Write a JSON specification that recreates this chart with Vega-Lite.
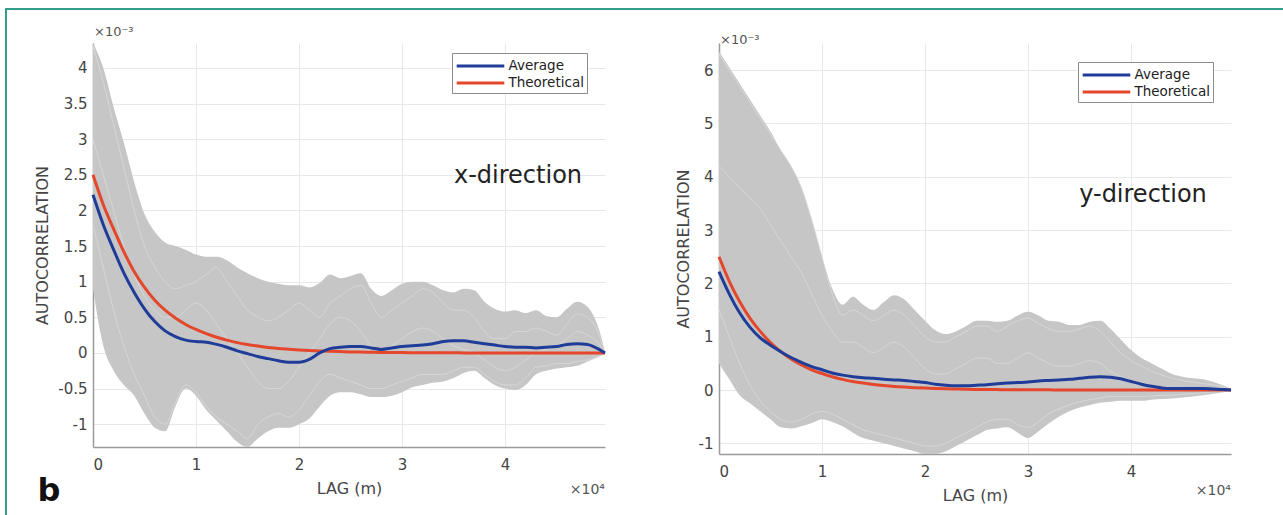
{
"$schema": "https://vega.github.io/schema/vega-lite/v6.json",
"background": "white",
"padding": {"left": 5, "top": 8, "right": 0, "bottom": 0},
"bounds": "flush",
"spacing": 114,
"config": {
  "font": "DejaVu Sans",
  "view": {"stroke": null},
  "axis": {"grid": true, "gridColor": "#e8e8e8", "gridWidth": 1, "domainColor": "#9b9b9b", "domainWidth": 1.5, "ticks": false, "labelFont": "DejaVu Sans", "labelFontSize": 15, "labelColor": "#454545", "labelPadding": 6, "titleFont": "DejaVu Sans", "titleFontSize": 16, "titleFontWeight": "normal", "titleColor": "#454545"},
  "legend": {"title": null, "symbolType": "M-2.8,0H2.8", "symbolSize": 289, "symbolStrokeWidth": 3, "symbolOffset": 15.5, "labelOffset": 18, "labelFont": "DejaVu Sans", "labelFontSize": 13.5, "labelColor": "#222222", "strokeColor": "#8c8c8c", "fillColor": "white", "padding": 3, "rowPadding": -3}
},
"datasets": {
"xdir": [
{"lag":0,"lo":0.9,"hi":4.35,"g1":4.3,"g2":1.8,"g3":3.0,"Average":2.22,"Theoretical":2.5},
{"lag":1000,"lo":0.1,"hi":4.0,"g1":3.8,"g2":1.2,"g3":2.5,"Average":1.8,"Theoretical":2.08},
{"lag":2000,"lo":-0.25,"hi":3.45,"g1":3.2,"g2":0.6,"g3":2.0,"Average":1.45,"Theoretical":1.74},
{"lag":3000,"lo":-0.45,"hi":2.95,"g1":2.6,"g2":0.1,"g3":1.5,"Average":1.12,"Theoretical":1.42},
{"lag":4000,"lo":-0.6,"hi":2.4,"g1":2.0,"g2":-0.3,"g3":1.1,"Average":0.85,"Theoretical":1.14},
{"lag":5000,"lo":-0.85,"hi":1.95,"g1":1.5,"g2":-0.6,"g3":0.8,"Average":0.62,"Theoretical":0.92},
{"lag":6000,"lo":-1.05,"hi":1.7,"g1":1.2,"g2":-0.9,"g3":0.6,"Average":0.44,"Theoretical":0.74},
{"lag":7000,"lo":-1.1,"hi":1.55,"g1":1.0,"g2":-1.0,"g3":0.5,"Average":0.31,"Theoretical":0.6},
{"lag":8000,"lo":-0.75,"hi":1.5,"g1":0.9,"g2":-0.7,"g3":0.5,"Average":0.23,"Theoretical":0.49},
{"lag":9000,"lo":-0.5,"hi":1.45,"g1":0.95,"g2":-0.45,"g3":0.6,"Average":0.18,"Theoretical":0.4},
{"lag":10000,"lo":-0.6,"hi":1.38,"g1":1.0,"g2":-0.55,"g3":0.7,"Average":0.16,"Theoretical":0.33},
{"lag":11000,"lo":-0.8,"hi":1.35,"g1":1.1,"g2":-0.75,"g3":0.6,"Average":0.15,"Theoretical":0.27},
{"lag":12000,"lo":-0.95,"hi":1.35,"g1":1.2,"g2":-0.9,"g3":0.4,"Average":0.12,"Theoretical":0.22},
{"lag":13000,"lo":-1.1,"hi":1.3,"g1":1.0,"g2":-1.0,"g3":0.2,"Average":0.08,"Theoretical":0.18},
{"lag":14000,"lo":-1.25,"hi":1.2,"g1":0.8,"g2":-1.1,"g3":0.0,"Average":0.03,"Theoretical":0.145},
{"lag":15000,"lo":-1.32,"hi":1.12,"g1":0.6,"g2":-1.2,"g3":-0.2,"Average":-0.01,"Theoretical":0.118},
{"lag":16000,"lo":-1.2,"hi":1.05,"g1":0.5,"g2":-1.0,"g3":-0.4,"Average":-0.05,"Theoretical":0.096},
{"lag":17000,"lo":-1.1,"hi":1.0,"g1":0.45,"g2":-0.9,"g3":-0.5,"Average":-0.08,"Theoretical":0.078},
{"lag":18000,"lo":-1.05,"hi":0.97,"g1":0.5,"g2":-0.85,"g3":-0.5,"Average":-0.11,"Theoretical":0.063},
{"lag":19000,"lo":-1.05,"hi":0.95,"g1":0.6,"g2":-0.9,"g3":-0.4,"Average":-0.13,"Theoretical":0.052},
{"lag":20000,"lo":-1.0,"hi":0.95,"g1":0.7,"g2":-0.8,"g3":-0.2,"Average":-0.13,"Theoretical":0.042},
{"lag":21000,"lo":-0.92,"hi":0.92,"g1":0.6,"g2":-0.6,"g3":0.0,"Average":-0.09,"Theoretical":0.034},
{"lag":22000,"lo":-0.75,"hi":0.98,"g1":0.5,"g2":-0.4,"g3":0.2,"Average":0.0,"Theoretical":0.028},
{"lag":23000,"lo":-0.6,"hi":1.1,"g1":0.7,"g2":-0.3,"g3":0.4,"Average":0.06,"Theoretical":0.023},
{"lag":24000,"lo":-0.55,"hi":1.05,"g1":0.8,"g2":-0.35,"g3":0.5,"Average":0.08,"Theoretical":0.019},
{"lag":25000,"lo":-0.55,"hi":1.08,"g1":0.9,"g2":-0.4,"g3":0.45,"Average":0.09,"Theoretical":0.015},
{"lag":26000,"lo":-0.58,"hi":1.12,"g1":0.95,"g2":-0.45,"g3":0.3,"Average":0.09,"Theoretical":0.012},
{"lag":27000,"lo":-0.62,"hi":0.9,"g1":0.7,"g2":-0.5,"g3":0.1,"Average":0.07,"Theoretical":0.01},
{"lag":28000,"lo":-0.62,"hi":0.8,"g1":0.5,"g2":-0.5,"g3":0.0,"Average":0.05,"Theoretical":0.008},
{"lag":29000,"lo":-0.6,"hi":0.88,"g1":0.6,"g2":-0.45,"g3":0.1,"Average":0.07,"Theoretical":0.007},
{"lag":30000,"lo":-0.55,"hi":0.97,"g1":0.7,"g2":-0.4,"g3":0.2,"Average":0.09,"Theoretical":0.005},
{"lag":31000,"lo":-0.48,"hi":1.0,"g1":0.8,"g2":-0.35,"g3":0.3,"Average":0.1,"Theoretical":0.004},
{"lag":32000,"lo":-0.45,"hi":1.0,"g1":0.9,"g2":-0.3,"g3":0.35,"Average":0.11,"Theoretical":0.003},
{"lag":33000,"lo":-0.42,"hi":0.95,"g1":0.85,"g2":-0.3,"g3":0.3,"Average":0.13,"Theoretical":0.003},
{"lag":34000,"lo":-0.4,"hi":0.88,"g1":0.7,"g2":-0.3,"g3":0.2,"Average":0.16,"Theoretical":0.002},
{"lag":35000,"lo":-0.35,"hi":0.85,"g1":0.6,"g2":-0.25,"g3":0.1,"Average":0.17,"Theoretical":0.002},
{"lag":36000,"lo":-0.28,"hi":0.9,"g1":0.6,"g2":-0.2,"g3":0.05,"Average":0.17,"Theoretical":0.001},
{"lag":37000,"lo":-0.25,"hi":0.88,"g1":0.5,"g2":-0.2,"g3":0.0,"Average":0.15,"Theoretical":0.001},
{"lag":38000,"lo":-0.35,"hi":0.72,"g1":0.3,"g2":-0.3,"g3":-0.1,"Average":0.13,"Theoretical":0.001},
{"lag":39000,"lo":-0.45,"hi":0.62,"g1":0.2,"g2":-0.4,"g3":-0.2,"Average":0.11,"Theoretical":0.001},
{"lag":40000,"lo":-0.5,"hi":0.58,"g1":0.2,"g2":-0.45,"g3":-0.25,"Average":0.09,"Theoretical":0},
{"lag":41000,"lo":-0.52,"hi":0.6,"g1":0.3,"g2":-0.45,"g3":-0.2,"Average":0.08,"Theoretical":0},
{"lag":42000,"lo":-0.45,"hi":0.56,"g1":0.3,"g2":-0.35,"g3":-0.1,"Average":0.08,"Theoretical":0},
{"lag":43000,"lo":-0.3,"hi":0.6,"g1":0.35,"g2":-0.2,"g3":0.0,"Average":0.07,"Theoretical":0},
{"lag":44000,"lo":-0.25,"hi":0.52,"g1":0.3,"g2":-0.18,"g3":0.05,"Average":0.08,"Theoretical":0},
{"lag":45000,"lo":-0.22,"hi":0.5,"g1":0.25,"g2":-0.15,"g3":0.1,"Average":0.09,"Theoretical":0},
{"lag":46000,"lo":-0.2,"hi":0.62,"g1":0.4,"g2":-0.15,"g3":0.2,"Average":0.12,"Theoretical":0},
{"lag":47000,"lo":-0.18,"hi":0.72,"g1":0.55,"g2":-0.12,"g3":0.3,"Average":0.13,"Theoretical":0},
{"lag":48000,"lo":-0.12,"hi":0.65,"g1":0.5,"g2":-0.1,"g3":0.25,"Average":0.12,"Theoretical":0},
{"lag":49000,"lo":-0.06,"hi":0.38,"g1":0.3,"g2":-0.05,"g3":0.15,"Average":0.06,"Theoretical":0},
{"lag":49700,"lo":-0.01,"hi":0.02,"g1":0.0,"g2":0.0,"g3":0.0,"Average":0.0,"Theoretical":0}
],
"ydir": [
{"lag":0,"lo":0.5,"hi":6.35,"g1":6.3,"g2":4.2,"g3":1.5,"Average":2.22,"Theoretical":2.5},
{"lag":1000,"lo":0.2,"hi":6.05,"g1":6.0,"g2":4.0,"g3":1.0,"Average":1.8,"Theoretical":2.04},
{"lag":2000,"lo":-0.1,"hi":5.75,"g1":5.7,"g2":3.8,"g3":0.5,"Average":1.45,"Theoretical":1.66},
{"lag":3000,"lo":-0.25,"hi":5.45,"g1":5.4,"g2":3.6,"g3":0.1,"Average":1.18,"Theoretical":1.35},
{"lag":4000,"lo":-0.4,"hi":5.15,"g1":5.1,"g2":3.4,"g3":-0.2,"Average":0.98,"Theoretical":1.1},
{"lag":5000,"lo":-0.55,"hi":4.85,"g1":4.8,"g2":3.1,"g3":-0.4,"Average":0.84,"Theoretical":0.89},
{"lag":6000,"lo":-0.7,"hi":4.5,"g1":4.5,"g2":2.8,"g3":-0.55,"Average":0.72,"Theoretical":0.72},
{"lag":7000,"lo":-0.72,"hi":4.2,"g1":4.2,"g2":2.5,"g3":-0.6,"Average":0.61,"Theoretical":0.58},
{"lag":8000,"lo":-0.68,"hi":3.8,"g1":3.8,"g2":2.2,"g3":-0.55,"Average":0.52,"Theoretical":0.47},
{"lag":9000,"lo":-0.62,"hi":3.2,"g1":3.2,"g2":1.8,"g3":-0.45,"Average":0.44,"Theoretical":0.38},
{"lag":10000,"lo":-0.55,"hi":2.5,"g1":2.5,"g2":1.4,"g3":-0.4,"Average":0.38,"Theoretical":0.31},
{"lag":11000,"lo":-0.6,"hi":1.9,"g1":1.8,"g2":1.1,"g3":-0.45,"Average":0.32,"Theoretical":0.25},
{"lag":12000,"lo":-0.68,"hi":1.6,"g1":1.4,"g2":0.9,"g3":-0.55,"Average":0.28,"Theoretical":0.2},
{"lag":13000,"lo":-0.8,"hi":1.75,"g1":1.5,"g2":0.9,"g3":-0.65,"Average":0.25,"Theoretical":0.16},
{"lag":14000,"lo":-0.9,"hi":1.6,"g1":1.4,"g2":0.8,"g3":-0.75,"Average":0.23,"Theoretical":0.13},
{"lag":15000,"lo":-0.95,"hi":1.5,"g1":1.3,"g2":0.7,"g3":-0.8,"Average":0.22,"Theoretical":0.105},
{"lag":16000,"lo":-1.0,"hi":1.65,"g1":1.4,"g2":0.8,"g3":-0.85,"Average":0.2,"Theoretical":0.085},
{"lag":17000,"lo":-1.05,"hi":1.78,"g1":1.5,"g2":0.9,"g3":-0.9,"Average":0.19,"Theoretical":0.068},
{"lag":18000,"lo":-1.1,"hi":1.7,"g1":1.4,"g2":0.8,"g3":-0.95,"Average":0.18,"Theoretical":0.055},
{"lag":19000,"lo":-1.15,"hi":1.5,"g1":1.2,"g2":0.6,"g3":-1.0,"Average":0.16,"Theoretical":0.045},
{"lag":20000,"lo":-1.2,"hi":1.3,"g1":1.0,"g2":0.4,"g3":-1.05,"Average":0.14,"Theoretical":0.036},
{"lag":21000,"lo":-1.2,"hi":1.12,"g1":0.9,"g2":0.3,"g3":-1.05,"Average":0.11,"Theoretical":0.029},
{"lag":22000,"lo":-1.15,"hi":1.05,"g1":0.9,"g2":0.3,"g3":-1.0,"Average":0.09,"Theoretical":0.023},
{"lag":23000,"lo":-1.05,"hi":1.1,"g1":1.0,"g2":0.4,"g3":-0.9,"Average":0.08,"Theoretical":0.019},
{"lag":24000,"lo":-0.95,"hi":1.2,"g1":1.1,"g2":0.5,"g3":-0.8,"Average":0.08,"Theoretical":0.015},
{"lag":25000,"lo":-0.85,"hi":1.3,"g1":1.2,"g2":0.6,"g3":-0.7,"Average":0.09,"Theoretical":0.012},
{"lag":26000,"lo":-0.75,"hi":1.3,"g1":1.2,"g2":0.6,"g3":-0.6,"Average":0.1,"Theoretical":0.01},
{"lag":27000,"lo":-0.72,"hi":1.28,"g1":1.1,"g2":0.5,"g3":-0.55,"Average":0.12,"Theoretical":0.008},
{"lag":28000,"lo":-0.7,"hi":1.3,"g1":1.2,"g2":0.5,"g3":-0.55,"Average":0.13,"Theoretical":0.006},
{"lag":29000,"lo":-0.8,"hi":1.4,"g1":1.3,"g2":0.6,"g3":-0.65,"Average":0.14,"Theoretical":0.005},
{"lag":30000,"lo":-0.9,"hi":1.47,"g1":1.35,"g2":0.7,"g3":-0.7,"Average":0.15,"Theoretical":0.004},
{"lag":31000,"lo":-0.78,"hi":1.4,"g1":1.25,"g2":0.6,"g3":-0.6,"Average":0.17,"Theoretical":0.003},
{"lag":32000,"lo":-0.63,"hi":1.3,"g1":1.15,"g2":0.5,"g3":-0.45,"Average":0.18,"Theoretical":0.003},
{"lag":33000,"lo":-0.5,"hi":1.28,"g1":1.1,"g2":0.45,"g3":-0.35,"Average":0.19,"Theoretical":0.002},
{"lag":34000,"lo":-0.4,"hi":1.22,"g1":1.1,"g2":0.45,"g3":-0.28,"Average":0.2,"Theoretical":0.002},
{"lag":35000,"lo":-0.33,"hi":1.22,"g1":1.15,"g2":0.5,"g3":-0.22,"Average":0.22,"Theoretical":0.001},
{"lag":36000,"lo":-0.28,"hi":1.28,"g1":1.2,"g2":0.55,"g3":-0.18,"Average":0.24,"Theoretical":0.001},
{"lag":37000,"lo":-0.24,"hi":1.3,"g1":1.1,"g2":0.5,"g3":-0.15,"Average":0.25,"Theoretical":0.001},
{"lag":38000,"lo":-0.22,"hi":1.15,"g1":0.9,"g2":0.35,"g3":-0.12,"Average":0.24,"Theoretical":0.001},
{"lag":39000,"lo":-0.2,"hi":0.95,"g1":0.7,"g2":0.25,"g3":-0.12,"Average":0.21,"Theoretical":0},
{"lag":40000,"lo":-0.2,"hi":0.75,"g1":0.55,"g2":0.15,"g3":-0.12,"Average":0.16,"Theoretical":0},
{"lag":41000,"lo":-0.2,"hi":0.6,"g1":0.45,"g2":0.1,"g3":-0.12,"Average":0.11,"Theoretical":0},
{"lag":42000,"lo":-0.18,"hi":0.5,"g1":0.35,"g2":0.08,"g3":-0.11,"Average":0.07,"Theoretical":0},
{"lag":43000,"lo":-0.17,"hi":0.4,"g1":0.28,"g2":0.06,"g3":-0.1,"Average":0.04,"Theoretical":0},
{"lag":44000,"lo":-0.16,"hi":0.3,"g1":0.22,"g2":0.05,"g3":-0.1,"Average":0.03,"Theoretical":0},
{"lag":45000,"lo":-0.14,"hi":0.25,"g1":0.18,"g2":0.05,"g3":-0.08,"Average":0.03,"Theoretical":0},
{"lag":46000,"lo":-0.12,"hi":0.22,"g1":0.15,"g2":0.04,"g3":-0.07,"Average":0.03,"Theoretical":0},
{"lag":47000,"lo":-0.1,"hi":0.2,"g1":0.12,"g2":0.03,"g3":-0.05,"Average":0.03,"Theoretical":0},
{"lag":48000,"lo":-0.07,"hi":0.15,"g1":0.1,"g2":0.02,"g3":-0.03,"Average":0.02,"Theoretical":0},
{"lag":49000,"lo":-0.04,"hi":0.08,"g1":0.05,"g2":0.01,"g3":-0.02,"Average":0.01,"Theoretical":0},
{"lag":49700,"lo":-0.01,"hi":0.02,"g1":0.0,"g2":0.0,"g3":0.0,"Average":0.0,"Theoretical":0}
]
},
"resolve": {"scale": {"color": "independent"}, "legend": {"color": "independent"}},
"hconcat": [
{
  "width": 512, "height": 404,
  "data": {"name": "xdir"},
  "layer": [
    {"data": {"values": [{"part": "frame"}]},
     "mark": {"type": "rect", "fillOpacity": 0, "stroke": "#339c8a", "strokeWidth": 2},
     "encoding": {"x": {"datum": -8445}, "x2": {"datum": 117066}, "y": {"datum": 4.827}, "y2": {"datum": -2.485}}},
    {"mark": {"type": "area", "color": "#c6c6c6", "interpolate": "monotone"},
     "encoding": {
       "x": {"field": "lag", "type": "quantitative", "scale": {"domain": [0, 49700], "nice": false, "zero": false},
             "axis": {"title": "LAG (m)", "values": [0, 10000, 20000, 30000, 40000], "labelExpr": "'' + (datum.value / 10000)", "labelPadding": 10, "titlePadding": 8}},
       "y": {"field": "lo", "type": "quantitative", "scale": {"domain": [-1.32, 4.35], "nice": false, "zero": false},
             "axis": {"title": "AUTOCORRELATION", "values": [-1, -0.5, 0, 0.5, 1, 1.5, 2, 2.5, 3, 3.5, 4], "labelExpr": "'' + datum.value", "titlePadding": 7}},
       "y2": {"field": "hi"}
     }},
    {"transform": [{"fold": ["g1", "g2", "g3"], "as": ["run", "acf"]}],
     "mark": {"type": "line", "color": "#dadada", "strokeWidth": 0.8, "interpolate": "monotone"},
     "encoding": {"x": {"field": "lag", "type": "quantitative"}, "y": {"field": "acf", "type": "quantitative"}, "detail": {"field": "run"}}},
    {"transform": [{"fold": ["Theoretical", "Average"], "as": ["series", "acf"]}],
     "mark": {"type": "line", "strokeWidth": 3, "interpolate": "monotone"},
     "encoding": {"x": {"field": "lag", "type": "quantitative"}, "y": {"field": "acf", "type": "quantitative"},
       "color": {"field": "series", "type": "nominal", "scale": {"domain": ["Average", "Theoretical"], "range": ["#1f3c98", "#e4472b"]},
                 "legend": {"orient": "none", "legendX": 359, "legendY": 10}}}},
    {"data": {"values": [{"label": "x-direction"}]},
     "mark": {"type": "text", "fontSize": 24, "color": "#222222", "align": "center", "baseline": "middle"},
     "encoding": {"x": {"datum": 41255}, "y": {"datum": 2.48}, "text": {"field": "label"}}},
    {"data": {"values": [{"label": "×10⁻³"}]},
     "mark": {"type": "text", "fontSize": 13, "color": "#555555", "align": "left", "baseline": "middle", "dx": 1},
     "encoding": {"x": {"datum": 0}, "y": {"datum": 4.5}, "text": {"field": "label"}}},
    {"data": {"values": [{"label": "×10⁴"}]},
     "mark": {"type": "text", "fontSize": 14, "color": "#555555", "align": "right", "baseline": "middle"},
     "encoding": {"x": {"datum": 49700}, "y": {"datum": -1.93}, "text": {"field": "label"}}},
    {"data": {"values": [{"label": "b"}]},
     "mark": {"type": "text", "fontSize": 32, "fontWeight": "bold", "color": "#111111", "align": "center", "baseline": "alphabetic"},
     "encoding": {"x": {"datum": -4271}, "y": {"datum": -2.08}, "text": {"field": "label"}}}
  ]
},
{
  "width": 512, "height": 411,
  "data": {"name": "ydir"},
  "layer": [
    {"mark": {"type": "area", "color": "#c6c6c6", "interpolate": "monotone"},
     "encoding": {
       "x": {"field": "lag", "type": "quantitative", "scale": {"domain": [0, 49700], "nice": false, "zero": false},
             "axis": {"title": "LAG (m)", "values": [0, 10000, 20000, 30000, 40000], "labelExpr": "'' + (datum.value / 10000)", "labelPadding": 10, "titlePadding": 8}},
       "y": {"field": "lo", "type": "quantitative", "scale": {"domain": [-1.2, 6.51], "nice": false, "zero": false},
             "axis": {"title": "AUTOCORRELATION", "values": [-1, 0, 1, 2, 3, 4, 5, 6], "labelExpr": "'' + datum.value", "titlePadding": 7}},
       "y2": {"field": "hi"}
     }},
    {"transform": [{"fold": ["g1", "g2", "g3"], "as": ["run", "acf"]}],
     "mark": {"type": "line", "color": "#dadada", "strokeWidth": 0.8, "interpolate": "monotone"},
     "encoding": {"x": {"field": "lag", "type": "quantitative"}, "y": {"field": "acf", "type": "quantitative"}, "detail": {"field": "run"}}},
    {"transform": [{"fold": ["Theoretical", "Average"], "as": ["series", "acf"]}],
     "mark": {"type": "line", "strokeWidth": 3, "interpolate": "monotone"},
     "encoding": {"x": {"field": "lag", "type": "quantitative"}, "y": {"field": "acf", "type": "quantitative"},
       "color": {"field": "series", "type": "nominal", "scale": {"domain": ["Average", "Theoretical"], "range": ["#1f3c98", "#e4472b"]},
                 "legend": {"orient": "none", "legendX": 359, "legendY": 19}}}},
    {"data": {"values": [{"label": "y-direction"}]},
     "mark": {"type": "text", "fontSize": 24, "color": "#222222", "align": "center", "baseline": "middle"},
     "encoding": {"x": {"datum": 41158}, "y": {"datum": 3.66}, "text": {"field": "label"}}},
    {"data": {"values": [{"label": "×10⁻³"}]},
     "mark": {"type": "text", "fontSize": 13, "color": "#555555", "align": "left", "baseline": "middle", "dx": 1},
     "encoding": {"x": {"datum": 0}, "y": {"datum": 6.57}, "text": {"field": "label"}}},
    {"data": {"values": [{"label": "×10⁴"}]},
     "mark": {"type": "text", "fontSize": 14, "color": "#555555", "align": "right", "baseline": "middle"},
     "encoding": {"x": {"datum": 49700}, "y": {"datum": -1.89}, "text": {"field": "label"}}}
  ]
}
]
}
